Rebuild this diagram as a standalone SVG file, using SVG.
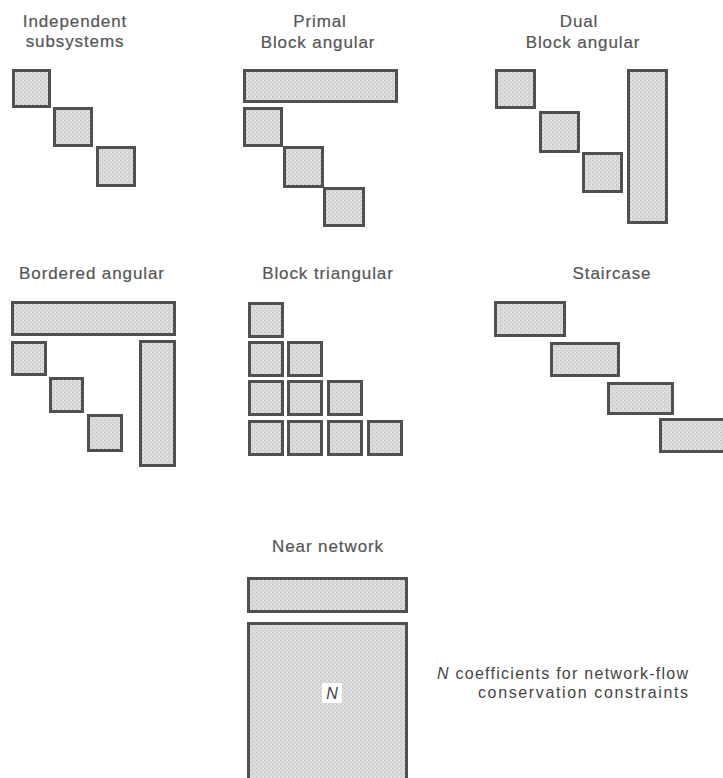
<svg xmlns="http://www.w3.org/2000/svg" width="723" height="778" viewBox="0 0 723 778">
<style>
.b{fill:url(#stip);stroke:#505050;stroke-width:3}
.t{font-family:"Liberation Sans",Arial,sans-serif;font-size:17px;fill:#555;stroke:#555;stroke-width:0.2px;text-anchor:middle;letter-spacing:0.9px}
.a{font-family:"Liberation Sans",Arial,sans-serif;font-size:16px;fill:#444}
</style>
<defs>
<pattern id="stip" width="4" height="4" patternUnits="userSpaceOnUse">
<rect width="4" height="4" fill="#dadada"/>
<rect x="0" y="0" width="1" height="1" fill="#b8b8b8"/>
<rect x="2" y="2" width="1" height="1" fill="#c4c4c4"/>
<rect x="3" y="0" width="1" height="1" fill="#ececec"/>
</pattern>
</defs>
<rect width="723" height="778" fill="#fff"/>

<g id="independent">
<text class="t" x="75" y="27">Independent</text>
<text class="t" x="75" y="47">subsystems</text>
<rect class="b" x="13.5" y="70.5" width="36" height="36"/>
<rect class="b" x="54.5" y="108.5" width="37" height="37"/>
<rect class="b" x="97.5" y="147.5" width="37" height="38"/>
</g>

<g id="primal">
<text class="t" x="320" y="27">Primal</text>
<text class="t" x="318" y="48">Block angular</text>
<rect class="b" x="244.5" y="70.5" width="152" height="31"/>
<rect class="b" x="244.5" y="108.5" width="37" height="37"/>
<rect class="b" x="284.5" y="147.5" width="38" height="39"/>
<rect class="b" x="324.5" y="188.5" width="39" height="37"/>
</g>

<g id="dual">
<text class="t" x="579" y="27">Dual</text>
<text class="t" x="583" y="48">Block angular</text>
<rect class="b" x="496.5" y="70.5" width="38" height="37"/>
<rect class="b" x="540.5" y="112.5" width="38" height="39"/>
<rect class="b" x="583.5" y="153.5" width="38" height="38"/>
<rect class="b" x="628.5" y="70.5" width="38" height="152"/>
</g>

<g id="bordered">
<text class="t" x="92" y="279">Bordered angular</text>
<rect class="b" x="12.5" y="302.5" width="162" height="32"/>
<rect class="b" x="12.5" y="342.5" width="33" height="32"/>
<rect class="b" x="50.5" y="378.5" width="32" height="33"/>
<rect class="b" x="88.5" y="415.5" width="33" height="35"/>
<rect class="b" x="140.5" y="341.5" width="34" height="124"/>
</g>

<g id="triangular">
<text class="t" x="328" y="279">Block triangular</text>
<rect class="b" x="249.5" y="303.5" width="33" height="33"/>
<rect class="b" x="249.5" y="342.5" width="33" height="33"/>
<rect class="b" x="288.5" y="342.5" width="33" height="33"/>
<rect class="b" x="249.5" y="381.5" width="33" height="33"/>
<rect class="b" x="288.5" y="381.5" width="33" height="33"/>
<rect class="b" x="328.5" y="381.5" width="33" height="33"/>
<rect class="b" x="249.5" y="421.5" width="33" height="33"/>
<rect class="b" x="288.5" y="421.5" width="33" height="33"/>
<rect class="b" x="328.5" y="421.5" width="33" height="33"/>
<rect class="b" x="368.5" y="421.5" width="33" height="33"/>
</g>

<g id="staircase">
<text class="t" x="612" y="279">Staircase</text>
<rect class="b" x="495.5" y="302.5" width="69" height="33"/>
<rect class="b" x="551.5" y="343.5" width="67" height="32"/>
<rect class="b" x="608.5" y="383.5" width="64" height="30"/>
<rect class="b" x="660.5" y="419.5" width="70" height="32"/>
</g>

<g id="near-network">
<text class="t" x="328" y="552">Near network</text>
<rect class="b" x="248.5" y="578.5" width="158" height="33"/>
<rect class="b" x="248.5" y="623.5" width="158" height="170"/>
<rect x="322" y="683" width="20" height="20" fill="#fff"/>
<text x="332" y="699" font-family="'Liberation Sans',Arial,sans-serif" font-size="16" font-style="italic" fill="#444" text-anchor="middle">N</text>
</g>

<g id="annotation">
<text class="a" x="437" y="679" textLength="251" lengthAdjust="spacing"><tspan font-style="italic">N</tspan> coefficients for network-flow</text>
<text class="a" x="478" y="698" textLength="210" lengthAdjust="spacing">conservation constraints</text>
</g>

<g id="connectors"/>
</svg>
